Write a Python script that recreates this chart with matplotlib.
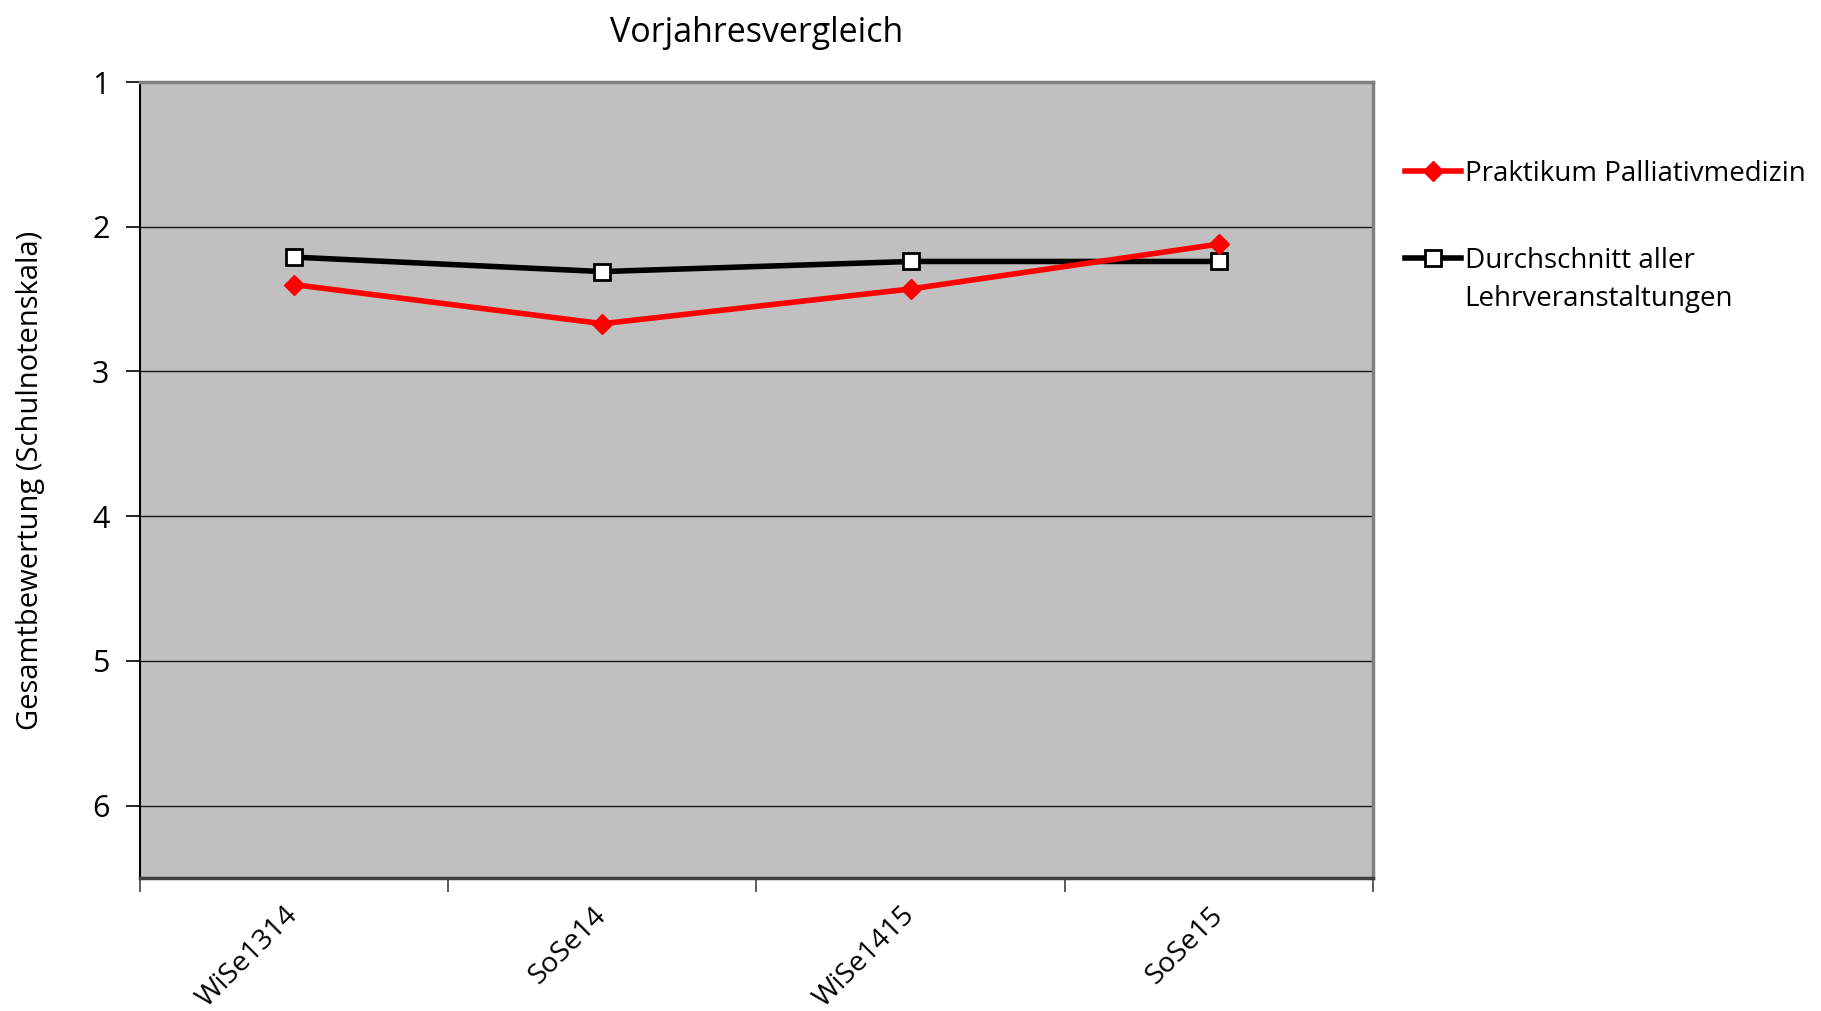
import matplotlib.pyplot as plt
import numpy as np

semester = ['WiSe1314', 'SoSe14', 'WiSe1415', 'SoSe15']
palliativ = [2.40, 2.67, 2.43, 2.12]
durchschnitt = [2.21, 2.31, 2.24, 2.24]
y_ticks = [1, 2, 3, 4, 5, 6]

plt.rcParams['font.family'] = ['Open Sans', 'DejaVu Sans']

fig = plt.figure(figsize=(18.21, 10.11), dpi=100)
ax = fig.add_axes([140 / 1821, 1 - 878 / 1011, (1373 - 140) / 1821, (878 - 82) / 1011])
ax.set_facecolor('#c0c0c0')

x = np.arange(len(semester))
ax.plot(x, durchschnitt, color='black', lw=4, marker='s', ms=12,
        mfc='white', mec='black', mew=2, label='Durchschnitt aller', zorder=3)
ax.plot(x, palliativ, color='#ff0000', lw=4, marker='D', ms=10,
        mfc='#ff0000', mec='#ff0000', label='Praktikum Palliativmedizin', zorder=4)

ax.set_xlim(-0.5, len(semester) - 0.5)
ax.set_ylim(6.5, 1)
ax.set_yticks(y_ticks)
ax.set_yticklabels([str(v) for v in y_ticks], fontsize=22)
ax.tick_params(axis='y', length=10, width=1.2, pad=12, color='black')
for v in y_ticks[1:]:
    ax.axhline(v, color='#1a1a1a', lw=1, zorder=1)

# tick marks at category borders, labels at category centres
ax.set_xticks(np.arange(-0.5, len(semester), 1.0))
ax.set_xticklabels([])
ax.tick_params(axis='x', which='major', length=10, width=1.2, color='#404040')
ax.set_xticks(x, minor=True)
ax.set_xticklabels(semester, minor=True, rotation=45, ha='right', va='center',
                   rotation_mode='anchor', fontsize=20.5)
ax.tick_params(axis='x', which='minor', length=0, pad=24)

ax.spines['left'].set_color('black')
ax.spines['left'].set_linewidth(1.5)
ax.spines['bottom'].set_color('#404040')
ax.spines['bottom'].set_linewidth(2.5)
for s in ['top', 'right']:
    ax.spines[s].set_color('#808080')
    ax.spines[s].set_linewidth(2.5)

ax.set_ylabel('Gesamtbewertung (Schulnotenskala)', fontsize=21, labelpad=34)
ax.set_title('Vorjahresvergleich', fontsize=24.5, pad=29)

handles, labels = ax.get_legend_handles_labels()
leg = ax.legend(handles[::-1], labels[::-1], loc='upper left',
                bbox_to_anchor=(1405 / 1821, 1 - 160 / 1011), bbox_transform=fig.transFigure,
                frameon=False, fontsize=20, handlelength=2.0, handletextpad=0.15,
                labelspacing=2.13, borderpad=0, borderaxespad=0)

# second line of the second legend label, placed below its first line
fig.canvas.draw()
bb = leg.get_texts()[1].get_window_extent()
fig.text(bb.x0, bb.y0 - 38, 'Lehrveranstaltungen', fontsize=20,
         transform=None, ha='left', va='bottom')

fig.savefig('out.png', dpi=100)
